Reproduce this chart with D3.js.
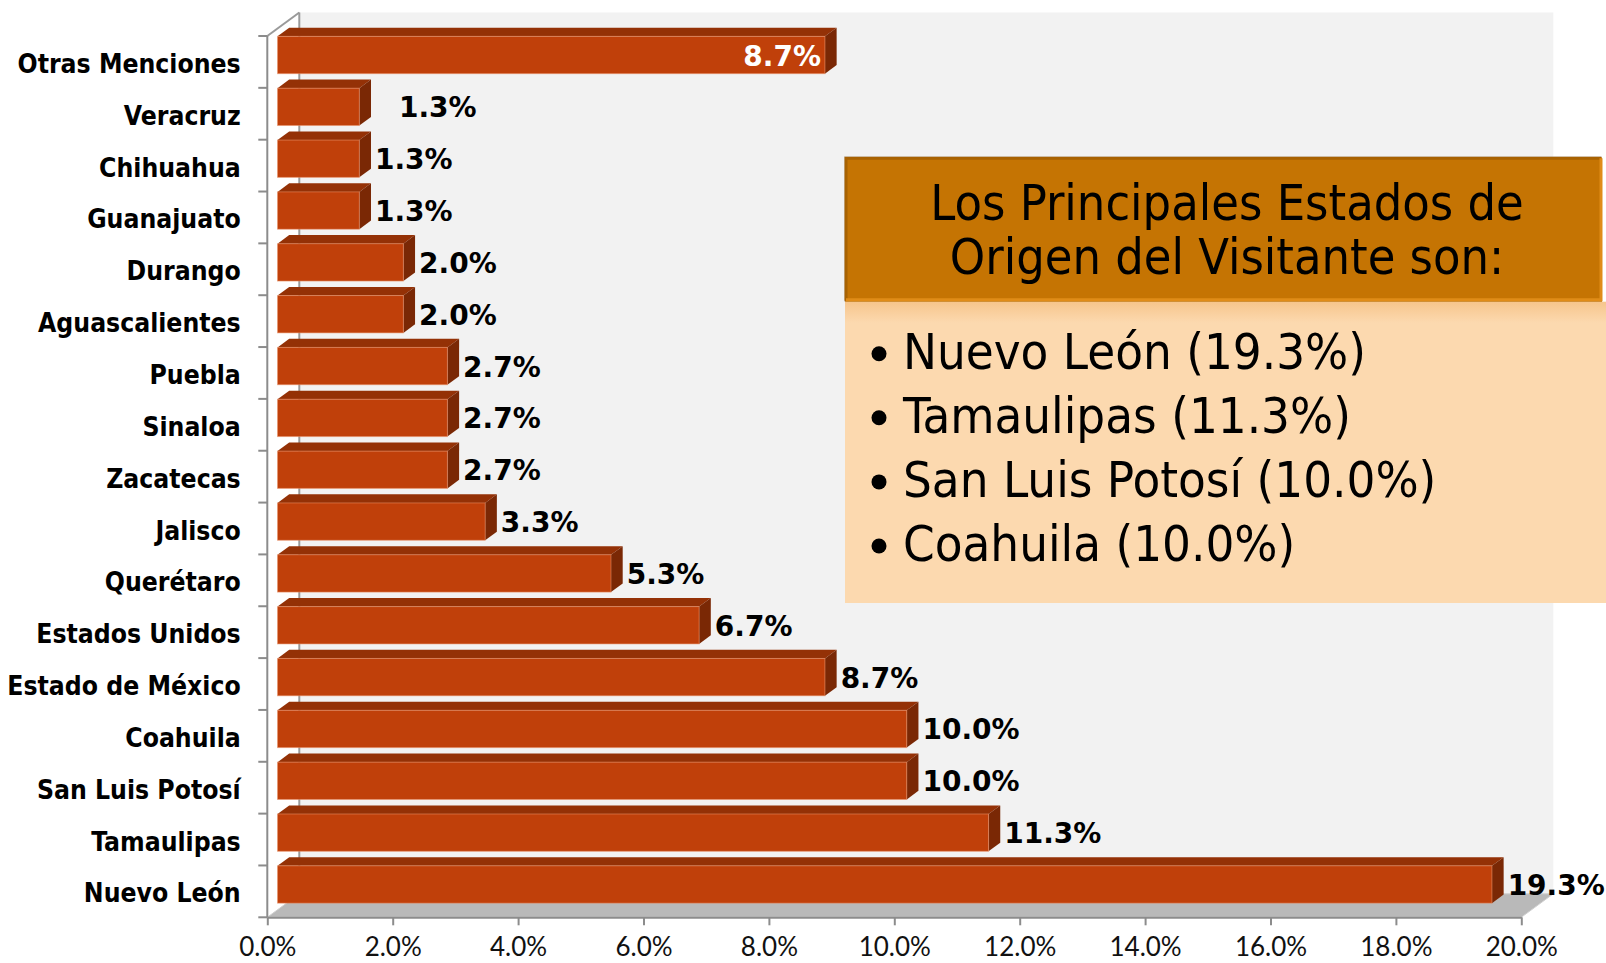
<!DOCTYPE html>
<html>
<head>
<meta charset="utf-8">
<script src="https://cdn.jsdelivr.net/npm/d3@7"></script>
<style>
  body { margin: 0; background: #ffffff; }
  .catLabel { font-family: "DejaVu Sans Condensed", "DejaVu Sans", sans-serif; font-stretch: condensed; font-weight: bold; font-size: 26.3px; fill: #000; }
  .valLabel { font-family: "DejaVu Sans", Verdana, sans-serif; font-weight: bold; font-size: 28px; fill: #000; }
  .tickLabel { font-family: Lato, "Open Sans", sans-serif; font-size: 26px; fill: #111; }
  .boxText { font-family: "DejaVu Sans Condensed", "DejaVu Sans", sans-serif; font-stretch: condensed; fill: #000; }
</style>
</head>
<body>
<div id="chart"></div>
<script>
// Data
var categories = ["Otras Menciones", "Veracruz", "Chihuahua", "Guanajuato", "Durango",
  "Aguascalientes", "Puebla", "Sinaloa", "Zacatecas", "Jalisco", "Querétaro",
  "Estados Unidos", "Estado de México", "Coahuila", "San Luis Potosí", "Tamaulipas", "Nuevo León"]
var values = [8.7, 1.3, 1.3, 1.3, 2.0, 2.0, 2.7, 2.7, 2.7, 3.3, 5.3, 6.7, 8.7, 10.0, 10.0, 11.3, 19.3]
var xTicks = [0, 2, 4, 6, 8, 10, 12, 14, 16, 18, 20]
var boxTitle = ["Los Principales Estados de", "Origen del Visitante son:"]
var boxItems = ["Nuevo León (19.3%)", "Tamaulipas (11.3%)", "San Luis Potosí (10.0%)", "Coahuila (10.0%)"]

var data = categories.map(function(c, i) { return {cat: c, value: values[i]} })

var svgWidth = 1606
var svgHeight = 963

var svg = d3.select("#chart")
  .append("svg")
  .attr("width", svgWidth)
  .attr("height", svgHeight)

// front plane scales
var xScale = d3.scaleLinear().domain([0, 20]).range([267.3, 1521.3])
var yScale = d3.scaleBand().domain(categories).range([36, 917.3])
// plane of the bar front faces, a bit deeper in the box
var xBar = d3.scaleLinear().domain([0, 20]).range([277.5, 1536])

var depth = {dx: 32, dy: -23.5}
var barDepth = {dx: 11.7, dy: -8.6}
var barShift = -6.9
var barThick = yScale.bandwidth() * 0.72

var x0 = xScale(0), x1 = xScale(20)
var y0 = yScale.range()[0], y1 = yScale.range()[1]

function pts(arr) { return arr.map(function(p) { return p.join(",") }).join(" ") }

// back wall
svg.append("polygon")
  .attr("points", pts([[x0 + depth.dx, y0 + depth.dy], [x1 + depth.dx, y0 + depth.dy],
    [x1 + depth.dx, y1 + depth.dy], [x0 + depth.dx, y1 + depth.dy]]))
  .attr("fill", "#f2f2f2")

svg.append("line")
  .attr("x1", x0 + depth.dx).attr("y1", y0 + depth.dy)
  .attr("x2", x0 + depth.dx).attr("y2", y1 + depth.dy)
  .attr("stroke", "#9a9a9a").attr("stroke-width", 2)

// floor
svg.append("polygon")
  .attr("points", pts([[x0, y1], [x1, y1], [x1 + depth.dx, y1 + depth.dy], [x0 + depth.dx, y1 + depth.dy]]))
  .attr("fill", "#b9b9b9")
  .attr("stroke", "#d0d0d0")
  .attr("stroke-width", 1)

// side wall edge at the top
svg.append("line")
  .attr("x1", x0).attr("y1", y0)
  .attr("x2", x0 + depth.dx).attr("y2", y0 + depth.dy)
  .attr("stroke", "#9a9a9a").attr("stroke-width", 2)

// x axis
var bottomAxis = d3.axisBottom(xScale)
  .tickValues(xTicks)
  .tickFormat(function(d) { return d.toFixed(1) + "%" })
  .tickSizeInner(8)
  .tickSizeOuter(0)

var xAxis = svg.append("g")
  .attr("transform", `translate(0, ${y1})`)
  .call(bottomAxis)

xAxis.select(".domain").attr("stroke", "#8c8c8c").attr("stroke-width", 2)
xAxis.selectAll(".tick line").attr("stroke", "#8c8c8c").attr("stroke-width", 2)
xAxis.selectAll(".tick text")
  .attr("class", "tickLabel")
  .attr("y", 20)
  .attr("font-family", null).attr("font-size", null).attr("fill", null)

// y axis: line, boundary ticks, labels
svg.append("line")
  .attr("x1", x0).attr("y1", y0)
  .attr("x2", x0).attr("y2", y1)
  .attr("stroke", "#8c8c8c").attr("stroke-width", 2)

var bounds = categories.map(function(c) { return yScale(c) }).concat([y1])
svg.selectAll(".yTick")
  .data(bounds)
  .enter()
  .append("line")
  .attr("class", "yTick")
  .attr("x1", x0 - 9).attr("x2", x0)
  .attr("y1", d => d).attr("y2", d => d)
  .attr("stroke", "#8c8c8c").attr("stroke-width", 2)

var leftAxis = d3.axisLeft(yScale).tickSize(0).tickPadding(26.6)
var yAxis = svg.append("g")
  .attr("transform", `translate(${x0}, 0)`)
  .call(leftAxis)
yAxis.select(".domain").remove()
yAxis.selectAll(".tick text")
  .attr("class", "catLabel")
  .attr("dy", "0.42em")
  .attr("font-family", null).attr("font-size", null).attr("fill", null)

// bars
var barGroup = svg.selectAll(".bar")
  .data(data)
  .enter()
  .append("g")
  .attr("class", "bar")

function frontTop(d) { return yScale(d.cat) + (yScale.bandwidth() - barThick) / 2 + barShift }

barGroup.append("polygon")
  .attr("points", function(d) {
    var t = frontTop(d), a = xBar(0), b = xBar(d.value)
    return pts([[a, t], [b, t], [b + barDepth.dx, t + barDepth.dy], [a + barDepth.dx, t + barDepth.dy]])
  })
  .attr("fill", "#943106")

barGroup.append("polygon")
  .attr("points", function(d) {
    var t = frontTop(d), b = xBar(d.value)
    return pts([[b, t], [b + barDepth.dx, t + barDepth.dy],
      [b + barDepth.dx, t + barThick + barDepth.dy], [b, t + barThick]])
  })
  .attr("fill", "#7a2805")

barGroup.append("rect")
  .attr("x", xBar(0))
  .attr("y", d => frontTop(d))
  .attr("width", d => xBar(d.value) - xBar(0))
  .attr("height", barThick)
  .attr("fill", "#c0400a")
  .attr("stroke", "#e9916a")
  .attr("stroke-opacity", 0.55)
  .attr("stroke-width", 1)

// value labels
barGroup.append("text")
  .attr("class", "valLabel")
  .attr("x", function(d, i) {
    if (i === 0) return xBar(d.value) - 4
    var nudge = d.cat === "Veracruz" ? 24 : 0
    return xBar(d.value) + barDepth.dx + 4 + nudge
  })
  .attr("y", d => frontTop(d) + barThick / 2 + 10.5)
  .attr("text-anchor", (d, i) => i === 0 ? "end" : "start")
  .style("fill", (d, i) => i === 0 ? "#ffffff" : "#000000")
  .text(d => d.value.toFixed(1) + "%")

// annotation box
var defs = svg.append("defs")
var grad = defs.append("linearGradient")
  .attr("id", "bodyGrad").attr("x1", 0).attr("y1", 0).attr("x2", 0).attr("y2", 1)
grad.append("stop").attr("offset", "0").attr("stop-color", "#f6c58c")
grad.append("stop").attr("offset", "0.07").attr("stop-color", "#fcd9af")
grad.append("stop").attr("offset", "1").attr("stop-color", "#fcd9af")

var box = {x: 845, top: 157.3, mid: 301.7, bottom: 603, right: 1606}

var boxGroup = svg.append("g")

boxGroup.append("rect")
  .attr("x", box.x).attr("y", box.mid)
  .attr("width", box.right - box.x).attr("height", box.bottom - box.mid)
  .attr("fill", "url(#bodyGrad)")

boxGroup.append("rect")
  .attr("x", box.x - 1).attr("y", box.top - 1)
  .attr("width", box.right - box.x - 3).attr("height", box.mid - box.top + 1)
  .attr("fill", "#b9b9b9").attr("opacity", 0.6)

boxGroup.append("rect")
  .attr("x", box.x).attr("y", box.top)
  .attr("width", box.right - box.x - 4).attr("height", box.mid - box.top)
  .attr("fill", "#c57403")

// bevel edges of the header
boxGroup.append("path")
  .attr("d", `M${box.x + 1},${box.mid - 1} L${box.x + 1},${box.top + 1} L${box.right - 5},${box.top + 1}`)
  .attr("fill", "none").attr("stroke", "#a86202").attr("stroke-width", 3)
boxGroup.append("path")
  .attr("d", `M${box.x + 1},${box.mid - 2} L${box.right - 5},${box.mid - 2} L${box.right - 5},${box.top + 1}`)
  .attr("fill", "none").attr("stroke", "#e08c18").attr("stroke-width", 3)

boxGroup.selectAll(".boxTitle")
  .data(boxTitle)
  .enter()
  .append("text")
  .attr("class", "boxText boxTitle")
  .attr("x", 1227)
  .attr("y", (d, i) => 220 + i * 54)
  .attr("text-anchor", "middle")
  .attr("font-size", "50px")
  .text(d => d)

var items = boxGroup.selectAll(".boxItem")
  .data(boxItems)
  .enter()
  .append("g")
  .attr("class", "boxItem")
  .attr("transform", (d, i) => `translate(0, ${368.7 + i * 64.1})`)

items.append("circle")
  .attr("cx", 879)
  .attr("cy", -15)
  .attr("r", 7.5)
  .attr("fill", "#000")

items.append("text")
  .attr("class", "boxText")
  .attr("x", 903)
  .attr("y", 0)
  .attr("font-size", "50.5px")
  .text(d => d)
</script>
</body>
</html>
